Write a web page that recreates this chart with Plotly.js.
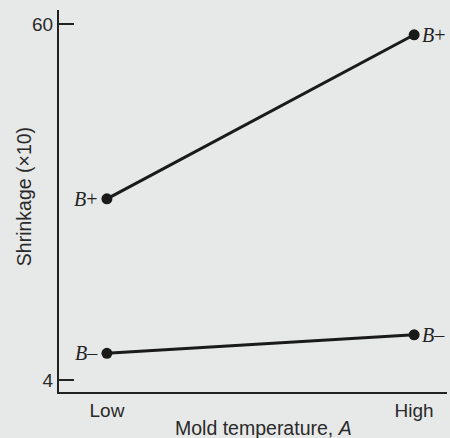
<!DOCTYPE html>
<html>
<head>
<meta charset="utf-8">
<script src="https://cdn.plot.ly/plotly-3.0.1.min.js"></script>
<style>html,body{margin:0;padding:0;background:#e7e8e8;}#chart{width:450px;height:438px;}</style>
</head>
<body>
<div id="chart"></div>
<script>
const categories = ["Low", "High"];
const bPlus = [32.5, 58.3];
const bMinus = [8.2, 11.1];
const yTicks = [4, 60];
const seriesLabels = ["B+", "B\u2013"];
const xTitle = 'Mold temperature, <i>A</i>';
const yTitle = 'Shrinkage (\u00d710)';

const xPos = categories.map((c, i) => i);
const lineStyle = {color: '#1a1a1a', width: 3};
const markerStyle = {color: '#1a1a1a', size: 11};

const traces = [bPlus, bMinus].map(vals => ({
  x: xPos, y: vals, type: 'scatter', mode: 'lines+markers',
  line: lineStyle, marker: markerStyle, hoverinfo: 'skip', showlegend: false
}));

const annFont = {family: 'Liberation Serif, Times New Roman, serif', size: 20, color: '#222'};
const axisFont = {family: 'Liberation Sans, Arial, sans-serif', size: 19, color: '#2a2a2a'};
const titleFont = {family: 'Liberation Sans, Arial, sans-serif', size: 19.5, color: '#2a2a2a'};

const annotations = [];
[bPlus, bMinus].forEach((vals, k) => {
  const label = '<i>B</i>' + seriesLabels[k].slice(1);
  annotations.push({x: xPos[0], y: vals[0], xref: 'x', yref: 'y', text: label, showarrow: false,
    xanchor: 'right', xshift: -7, font: annFont});
  annotations.push({x: xPos[1], y: vals[1], xref: 'x', yref: 'y', text: label, showarrow: false,
    xanchor: 'left', xshift: 6, font: annFont});
});
annotations.push({xref: 'paper', yref: 'paper', x: 0.528, y: 0, yshift: -36, yanchor: 'middle',
  xanchor: 'center', text: xTitle, showarrow: false, font: titleFont});
annotations.push({xref: 'paper', yref: 'paper', x: 0, xshift: -35, y: 0.51, xanchor: 'center',
  yanchor: 'middle', textangle: -90, text: yTitle, showarrow: false, font: titleFont});

const layout = {
  width: 450, height: 438,
  paper_bgcolor: '#e7e8e8', plot_bgcolor: '#e7e8e8',
  margin: {l: 59, r: 3, t: 10, b: 46},
  showlegend: false,
  xaxis: {
    range: [-0.156, 1.107], tickmode: 'array', tickvals: xPos, ticktext: categories,
    ticks: '', showgrid: false, zeroline: false, showline: true, linecolor: '#222', linewidth: 2,
    tickfont: axisFont
  },
  yaxis: {
    range: [2.11, 62.2], tickmode: 'array', tickvals: yTicks, ticktext: yTicks.map(String),
    ticks: 'inside', ticklen: 15, tickwidth: 1.5, tickcolor: '#222',
    showgrid: false, zeroline: false, showline: true, linecolor: '#222', linewidth: 2,
    tickfont: axisFont
  },
  annotations: annotations
};

Plotly.newPlot('chart', traces, layout, {displayModeBar: false, staticPlot: true});
</script>
</body>
</html>
